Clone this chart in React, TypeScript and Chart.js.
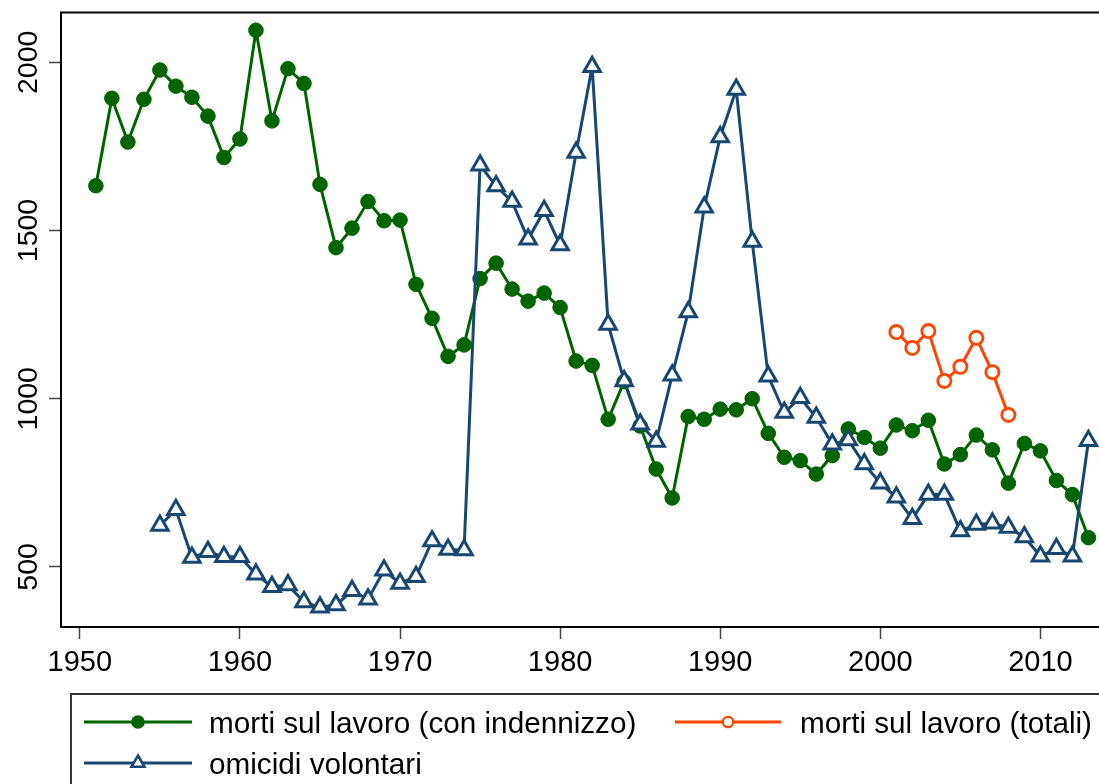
import React, { useEffect, useRef } from "react";
import { Chart, registerables } from "chart.js";

Chart.register(...registerables);

// ---- Data ----
const yearsIndennizzo = [
  1951, 1952, 1953, 1954, 1955, 1956, 1957, 1958, 1959, 1960,
  1961, 1962, 1963, 1964, 1965, 1966, 1967, 1968, 1969, 1970,
  1971, 1972, 1973, 1974, 1975, 1976, 1977, 1978, 1979, 1980,
  1981, 1982, 1983, 1984, 1985, 1986, 1987, 1988, 1989, 1990,
  1991, 1992, 1993, 1994, 1995, 1996, 1997, 1998, 1999, 2000,
  2001, 2002, 2003, 2004, 2005, 2006, 2007, 2008, 2009, 2010,
  2011, 2012, 2013,
];
const mortiIndennizzo = [
  1633, 1893, 1763, 1890, 1977, 1929, 1896, 1840, 1717, 1772,
  2095, 1826, 1981, 1937, 1637, 1449, 1507, 1586, 1529, 1531,
  1340, 1239, 1126, 1160, 1357, 1403, 1326, 1290, 1314, 1271,
  1112, 1099, 939, 1051, 919, 791, 705, 947, 939, 969,
  967, 1000, 897, 826, 816, 776, 831, 910, 885, 853,
  922, 905, 936, 806, 834, 892, 848, 749, 867, 845,
  757, 715, 587,
];

const yearsTotali = [2001, 2002, 2003, 2004, 2005, 2006, 2007, 2008];
const mortiTotali = [1198, 1151, 1201, 1053, 1095, 1181, 1079, 952];

const yearsOmicidi = [
  1955, 1956, 1957, 1958, 1959, 1960,
  1961, 1962, 1963, 1964, 1965, 1966, 1967, 1968, 1969, 1970,
  1971, 1972, 1973, 1974, 1975, 1976, 1977, 1978, 1979, 1980,
  1981, 1982, 1983, 1984, 1985, 1986, 1987, 1988, 1989, 1990,
  1991, 1992, 1993, 1994, 1995, 1996, 1997, 1998, 1999, 2000,
  2001, 2002, 2003, 2004, 2005, 2006, 2007, 2008, 2009, 2010,
  2011, 2012, 2013,
];
const omicidi = [
  623, 670, 528, 545, 530, 530,
  478, 441, 446, 396, 380, 387, 429, 404, 490, 451,
  471, 577, 552, 550, 1694, 1632, 1586, 1474, 1559, 1457,
  1732, 1987, 1221, 1053, 924, 873, 1070, 1258, 1569, 1778,
  1919, 1467, 1067, 959, 1003, 944, 865, 877, 806, 749,
  707, 643, 715, 715, 607, 626, 630, 617, 589, 532,
  554, 532, 875,
];

const xTicks = [1950, 1960, 1970, 1980, 1990, 2000, 2010];
const yTicks = [500, 1000, 1500, 2000];

const labelIndennizzo = "morti sul lavoro (con indennizzo)";
const labelTotali = "morti sul lavoro (totali)";
const labelOmicidi = "omicidi volontari";

// ---- Styles ----
const GREEN = "#006400";
const ORANGE = "#FF4500";
const NAVY = "#1A476F";
const FONT = "'Liberation Sans', Arial, Helvetica, sans-serif";
const W = 1099;
const H = 784;

function drawTriangle(ctx: CanvasRenderingContext2D, x: number, y: number, r: number) {
  ctx.beginPath();
  for (let k = 0; k < 3; k++) {
    const a = (k * 2 * Math.PI) / 3;
    const px = x + Math.sin(a) * r;
    const py = y - Math.cos(a) * r;
    if (k === 0) ctx.moveTo(px, py);
    else ctx.lineTo(px, py);
  }
  ctx.closePath();
}

const framePlugin = {
  id: "stataFrame",
  afterDraw(chart: any) {
    const ctx: CanvasRenderingContext2D = chart.ctx;
    const area = chart.chartArea;
    const yScale = chart.scales.y;
    ctx.save();
    // top frame line
    ctx.strokeStyle = "#000";
    ctx.lineWidth = 2;
    ctx.beginPath();
    ctx.moveTo(area.left - 1, area.top);
    ctx.lineTo(W + 5, area.top);
    ctx.stroke();
    // extend bottom axis line to the canvas edge
    ctx.beginPath();
    ctx.moveTo(area.right - 1, area.bottom);
    ctx.lineTo(W + 5, area.bottom);
    ctx.stroke();

    // rotated y tick labels
    ctx.fillStyle = "#000";
    ctx.font = `28.5px ${FONT}`;
    ctx.textAlign = "center";
    ctx.textBaseline = "alphabetic";
    for (const v of yTicks) {
      const py = yScale.getPixelForValue(v);
      ctx.save();
      ctx.translate(37, py);
      ctx.rotate(-Math.PI / 2);
      ctx.fillText(String(v), 0, 0);
      ctx.restore();
    }

    // legend box
    ctx.strokeStyle = "#333";
    ctx.lineWidth = 2;
    ctx.beginPath();
    ctx.moveTo(71, H + 5);
    ctx.lineTo(71, 694);
    ctx.lineTo(W + 5, 694);
    ctx.stroke();

    ctx.font = `29.7px ${FONT}`;
    ctx.lineWidth = 2.8;
    ctx.textAlign = "left";
    // row 1 col 1: green
    ctx.strokeStyle = GREEN;
    ctx.beginPath();
    ctx.moveTo(84, 722);
    ctx.lineTo(192, 722);
    ctx.stroke();
    ctx.fillStyle = GREEN;
    ctx.beginPath();
    ctx.arc(138, 722, 6.8, 0, Math.PI * 2);
    ctx.fill();
    ctx.fillStyle = "#000";
    ctx.fillText(labelIndennizzo, 209, 733);

    // row 1 col 2: orange
    ctx.strokeStyle = ORANGE;
    ctx.beginPath();
    ctx.moveTo(675, 722);
    ctx.lineTo(781, 722);
    ctx.stroke();
    ctx.fillStyle = "#fff";
    ctx.lineWidth = 2.2;
    ctx.beginPath();
    ctx.arc(728, 722, 5.2, 0, Math.PI * 2);
    ctx.fill();
    ctx.stroke();
    ctx.fillStyle = "#000";
    ctx.fillText(labelTotali, 800, 733);

    // row 2: navy
    ctx.lineWidth = 2.8;
    ctx.strokeStyle = NAVY;
    ctx.beginPath();
    ctx.moveTo(84, 763);
    ctx.lineTo(192, 763);
    ctx.stroke();
    ctx.fillStyle = "#fff";
    ctx.lineWidth = 2.6;
    drawTriangle(ctx, 138, 763, 7.5);
    ctx.fill();
    ctx.stroke();
    ctx.fillStyle = "#000";
    ctx.fillText(labelOmicidi, 209, 774);

    ctx.restore();
  },
};

export default function App() {
  const canvasRef = useRef<HTMLCanvasElement | null>(null);

  useEffect(() => {
    const canvas = canvasRef.current;
    if (!canvas) return;
    const toPts = (xs: number[], ys: number[]) => xs.map((x, i) => ({ x, y: ys[i] }));

    const chart = new Chart(canvas, {
      type: "line",
      data: {
        datasets: [
          {
            label: labelOmicidi,
            data: toPts(yearsOmicidi, omicidi),
            borderColor: NAVY,
            borderWidth: 3,
            pointStyle: "triangle",
            pointRadius: 9.5,
            pointBorderWidth: 3,
            pointBackgroundColor: "#fff",
            pointBorderColor: NAVY,
            fill: false,
            clip: false,
          },
          {
            label: labelTotali,
            data: toPts(yearsTotali, mortiTotali),
            borderColor: ORANGE,
            borderWidth: 3,
            pointStyle: "circle",
            pointRadius: 6.6,
            pointBorderWidth: 2.8,
            pointBackgroundColor: "#fff",
            pointBorderColor: ORANGE,
            fill: false,
            clip: false,
          },
          {
            label: labelIndennizzo,
            data: toPts(yearsIndennizzo, mortiIndennizzo),
            borderColor: GREEN,
            borderWidth: 3,
            pointStyle: "circle",
            pointRadius: 7.3,
            pointBorderWidth: 1,
            pointBackgroundColor: GREEN,
            pointBorderColor: GREEN,
            fill: false,
            clip: false,
          },
        ],
      },
      options: {
        responsive: false,
        maintainAspectRatio: false,
        animation: false,
        devicePixelRatio: 1,
        layout: { padding: { top: 10, left: 0, right: 0, bottom: 0 } },
        elements: { line: { tension: 0 } },
        plugins: {
          legend: { display: false },
          tooltip: { enabled: false },
        },
        scales: {
          x: {
            type: "linear",
            min: 1948.822,
            max: 2012.88,
            afterBuildTicks: (s: any) => {
              s.ticks = xTicks.map((v) => ({ value: v }));
            },
            afterFit: (s: any) => {
              s.height = 157;
              s.paddingLeft = 0;
              s.paddingRight = 0;
            },
            grid: {
              display: true,
              drawOnChartArea: false,
              drawTicks: true,
              tickLength: 12,
              tickColor: "#444",
              tickWidth: 1.5,
            },
            border: { display: true, color: "#000", width: 2 },
            ticks: {
              color: "#000",
              font: { family: FONT, size: 29 },
              padding: 7,
              maxRotation: 0,
              minRotation: 0,
              autoSkip: false,
              callback: (v: any) => String(v),
            },
          },
          y: {
            type: "linear",
            min: 321.5,
            max: 2148,
            afterBuildTicks: (s: any) => {
              s.ticks = yTicks.map((v) => ({ value: v }));
            },
            afterFit: (s: any) => {
              s.width = 61;
              s.paddingTop = 0;
              s.paddingBottom = 0;
            },
            grid: {
              display: true,
              drawOnChartArea: false,
              drawTicks: true,
              tickLength: 12,
              tickColor: "#444",
              tickWidth: 1.5,
            },
            border: { display: true, color: "#000", width: 2 },
            ticks: { display: false },
          },
        },
      },
      plugins: [framePlugin],
    } as any);

    return () => chart.destroy();
  }, []);

  return (
    <div
      style={{
        position: "fixed",
        left: 0,
        top: 0,
        width: W,
        height: H,
        overflow: "hidden",
        background: "#fff",
      }}
    >
      <canvas ref={canvasRef} width={W} height={H} style={{ display: "block", width: W, height: H }} />
    </div>
  );
}
